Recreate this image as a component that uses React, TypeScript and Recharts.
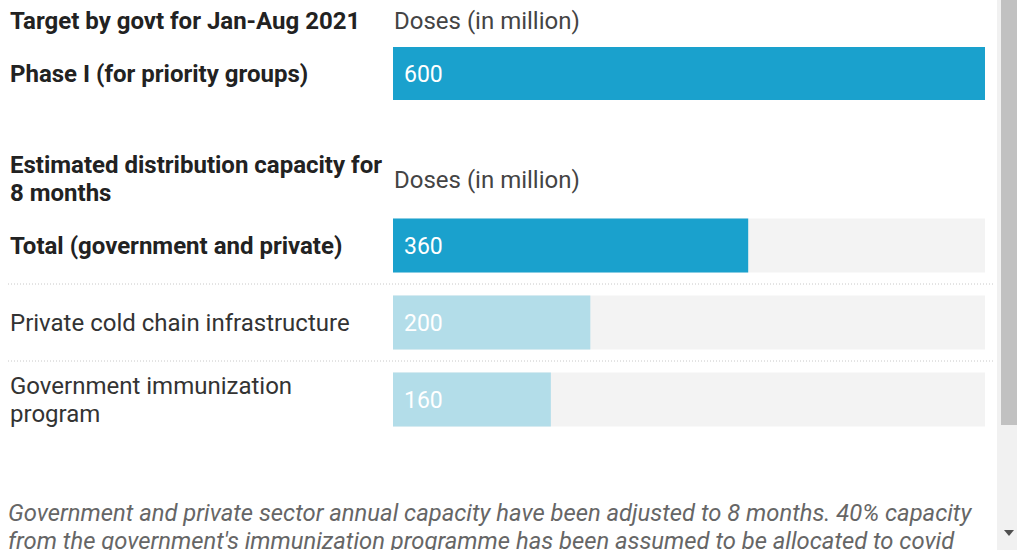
import React from "react";
import { Bar, BarChart, Cell, LabelList, XAxis, YAxis } from "recharts";

// target section
const targetRows = ["Phase I (for priority groups)"];
const targetValues = [600];

// capacity section (\n marks where the label wraps)
const capacityRows = [
  "Total (government and private)",
  "Private cold chain infrastructure",
  "Government immunization\nprogram",
];
const capacityValues = [360, 200, 160];

const maxDoses = 600;
const unitLabel = "Doses (in million)";
const note =
  "Government and private sector annual capacity have been adjusted to 8 months. 40% capacity from the government's immunization programme has been assumed to be allocated to covid vaccination.";

const FONT = "Roboto, 'Noto Sans', sans-serif";
const DARK = "#1aa1cd";
const LIGHT = "#b3dde9";

const RowTick = (props: any) => {
  const { y, payload, index, boldFirst, separators } = props;
  const bold = boldFirst ? index === 0 : true;
  const lines = String(payload.value).split("\n");
  const lh = 28;
  const first = y - ((lines.length - 1) * lh) / 2;
  return (
    <g>
      {separators && index > 0 && (
        <line
          x1={8}
          x2={995}
          y1={y - 38.5}
          y2={y - 38.5}
          stroke="#c8c8c8"
          strokeDasharray="1 2"
        />
      )}
      <text
        x={10}
        textAnchor="start"
        fill={bold ? "#222" : "#333"}
        fontWeight={bold ? 700 : 400}
        fontSize={24}
        fontFamily={FONT}
      >
        {lines.map((l, i) => (
          <tspan key={i} x={10} y={first + i * lh} dy="0.355em">
            {l}
          </tspan>
        ))}
      </text>
    </g>
  );
};

const App: React.FC = () => {
  const targetData = targetRows.map((label, i) => ({ label, value: targetValues[i] }));
  const capacityData = capacityRows.map((label, i) => ({ label, value: capacityValues[i] }));

  const header: React.CSSProperties = {
    position: "absolute",
    fontSize: 24,
    lineHeight: "28px",
    color: "#222",
    fontWeight: 700,
    left: 10,
    whiteSpace: "nowrap",
  };
  const unit: React.CSSProperties = {
    position: "absolute",
    fontSize: 24,
    lineHeight: "28px",
    color: "#444",
    left: 394,
  };

  return (
    <div
      style={{
        position: "fixed",
        top: 0,
        left: 0,
        width: 1017,
        height: 550,
        overflow: "hidden",
        background: "#fff",
        fontFamily: FONT,
      }}
    >
      <div style={{ ...header, top: 7 }}>Target by govt for Jan-Aug 2021</div>
      <div style={{ ...unit, top: 7 }}>{unitLabel}</div>

      <div style={{ position: "absolute", top: 47, left: 0 }}>
        <BarChart
          width={1017}
          height={53}
          data={targetData}
          layout="vertical"
          barCategoryGap={0}
          margin={{ top: 0, right: 32, bottom: 0, left: 0 }}
        >
          <XAxis type="number" domain={[0, maxDoses]} hide />
          <YAxis
            type="category"
            dataKey="label"
            width={393}
            axisLine={false}
            tickLine={false}
            tick={<RowTick boldFirst={false} separators={false} />}
          />
          <Bar dataKey="value" fill={DARK} background={{ fill: "#f3f3f3" }} isAnimationActive={false}>
            <LabelList
              dataKey="value"
              position="insideLeft"
              offset={11}
              fill="#fff"
              fontSize={23}
              fontWeight={400}
              fontFamily={FONT}
            />
          </Bar>
        </BarChart>
      </div>

      <div style={{ ...header, top: 151 }}>
        Estimated distribution capacity for
        <br />8 months
      </div>
      <div style={{ ...unit, top: 166 }}>{unitLabel}</div>

      <div style={{ position: "absolute", top: 206.5, left: 0 }}>
        <BarChart
          width={1017}
          height={231}
          data={capacityData}
          layout="vertical"
          barCategoryGap={11.5}
          margin={{ top: 0, right: 32, bottom: 0, left: 0 }}
        >
          <XAxis type="number" domain={[0, maxDoses]} hide />
          <YAxis
            type="category"
            dataKey="label"
            width={393}
            axisLine={false}
            tickLine={false}
            interval={0}
            tick={<RowTick boldFirst separators />}
          />
          <Bar dataKey="value" background={{ fill: "#f3f3f3" }} isAnimationActive={false}>
            {capacityData.map((_, i) => (
              <Cell key={i} fill={i === 0 ? DARK : LIGHT} />
            ))}
            <LabelList
              dataKey="value"
              position="insideLeft"
              offset={11}
              fill="#fff"
              fontSize={23}
              fontWeight={400}
              fontFamily={FONT}
            />
          </Bar>
        </BarChart>
      </div>

      <div
        style={{
          position: "absolute",
          top: 499,
          left: 8,
          width: 990,
          fontSize: 23.8,
          lineHeight: "28px",
          fontStyle: "italic",
          color: "#666",
        }}
      >
        {note}
      </div>

      {/* scrollbar */}
      <div style={{ position: "absolute", top: 0, left: 997, width: 20, height: 550, background: "#f1f1f1" }} />
      <div style={{ position: "absolute", top: 0, left: 1001, width: 16, height: 425, background: "#c1c1c1" }} />
      <div
        style={{
          position: "absolute",
          top: 530,
          left: 1004,
          width: 0,
          height: 0,
          borderLeft: "5px solid transparent",
          borderRight: "5px solid transparent",
          borderTop: "6px solid #505050",
        }}
      />
    </div>
  );
};

export default App;
